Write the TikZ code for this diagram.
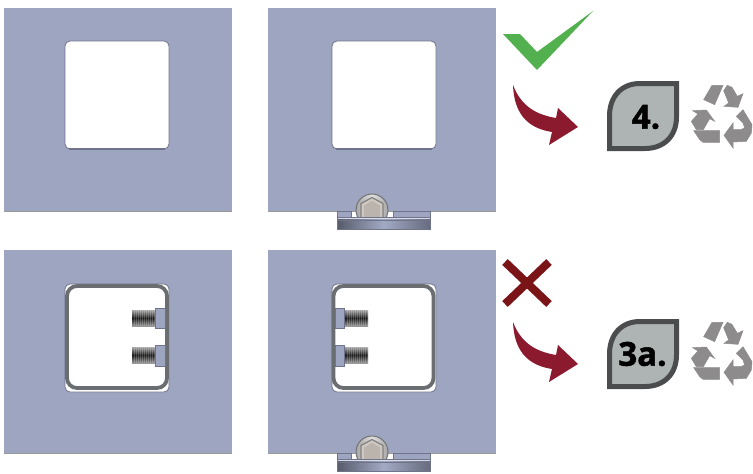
\documentclass[tikz,border=0pt]{standalone}
\usepackage{fontspec}
\setmainfont{Open Sans}
\newfontfamily\badgefont[BoldFeatures={FakeBold=1.6}]{Open Sans}
\usepackage{tikz}
\usetikzlibrary{calc}
\pgfdeclarelayer{edgelayer}
\pgfdeclarelayer{nodelayer}
\pgfsetlayers{edgelayer,main,nodelayer}
\definecolor{platecol}{HTML}{9DA5C1}
\definecolor{edgecol}{HTML}{70748A}
\definecolor{framecol}{HTML}{6B6E70}
\definecolor{recyclecol}{HTML}{8D8B8C}
\definecolor{okcol}{HTML}{52B04F}
\definecolor{badcol}{HTML}{7A1416}
\definecolor{arrowcol}{HTML}{8C1A2E}
\definecolor{leafcol}{HTML}{AEB3B3}
\definecolor{leafline}{HTML}{4A4C4E}
\definecolor{boltcol}{HTML}{CFC8C0}
\tikzstyle{plate}=[fill=platecol,draw=none]
\tikzstyle{window}=[fill=white,draw=edgecol,line width=0.8pt,rounded corners=5pt]
\tikzstyle{tube}=[draw=framecol,line width=3.8pt,rounded corners=10pt]
\tikzstyle{boltface}=[fill=platecol,draw=edgecol,line width=0.6pt]
\tikzstyle{leaf}=[fill=leafcol,draw=leafline,line width=5pt,line join=miter]
\tikzstyle{badgetext}=[inner sep=0pt,font=\badgefont\fontsize{33}{33}\selectfont\bfseries,text=black]
\tikzstyle{recycle}=[fill=recyclecol,draw=recyclecol,line width=0.5pt,x=0.3333pt,y=-0.3333pt]
\newcommand{\thread}[2]{% thread from x=#1, top y=#2, 23 long
	\shade [top color=gray!70,bottom color=gray!80,middle color=black!90] (#1,#2) rectangle ++(23,16);
	\foreach \i in {1,...,11} {
		\draw [white,opacity=0.2,line width=0.5pt] ($(#1,#2)+(2*\i,0)$) -- ++(0,16);
	}
}
\newcommand{\clamp}{% bolt and bracket under a plate
	\draw [boltface] (337,211) rectangle (351,218);
	\draw [boltface] (393,211) rectangle (430,218);
	\shade [left color=gray!70,right color=gray!70,middle color=gray!25,draw=black!55,line width=1pt] (372,210) circle (16);
	\draw [fill=boltcol,draw=black!50,line width=1.2pt] (372,197.5) -- (383,203.5) -- (383,218) -- (361,218) -- (361,203.5) -- cycle;
	\fill [boltcol!90!black] (372,201) -- (380,205.5) -- (380,218) -- (364,218) -- (364,205.5) -- cycle;
	\shade [left color=black!45!platecol,right color=black!35!platecol,middle color=platecol!95!white] (337,217) rectangle (430,229);
	\fill [white!60!platecol] (337,217.5) rectangle (430,219);
	\draw [edgecol,line width=0.6pt] (337,220.5) -- (430,220.5);
	\draw [edgecol,line width=0.5pt] (337,217) rectangle (430,229);
}
\newcommand{\recyclemark}{%
	\filldraw [recycle] (47,65) -- (72,22) -- (105,22) -- (80,80) -- cycle;
	\filldraw [recycle] (107,38) -- (118,22) -- (132,28) -- (148,55) -- (165,47) -- (150,88) -- (108,85) -- (122,75) -- cycle;
	\filldraw [recycle] (14,98) -- (55,96) -- (80,130) -- (65,122) -- (46,155) -- (25,155) -- (10,130) -- (30,108) -- cycle;
	\filldraw [recycle] (17,158) -- (95,158) -- (95,193) -- (45,193) -- (35,185) -- cycle;
	\filldraw [recycle] (145,115) -- (165,95) -- (192,140) -- (190,165) -- (175,190) -- (135,192) -- (135,210) -- (108,172) -- (135,135) -- (135,155) -- (158,155) -- (170,150) -- (165,135) -- cycle;
}
\newcommand{\leafbadge}{%
	\draw [style=leaf] (676.5,83.5) -- (640,83.5) .. controls (621,83.5) and (609.5,97) .. (609.5,116) -- (609.5,148.5) -- (645,148.5) .. controls (664,148.5) and (676.5,136) .. (676.5,117) -- cycle;
}
\newcommand{\redarrow}{%
	\fill [arrowcol] (513,85) .. controls (520,103) and (532,114) .. (556,118) -- (558,108) -- (578,127) -- (549,145) -- (552,132) .. controls (526,128) and (514,112) .. (513,85) -- cycle;
}
\begin{document}
\begin{tikzpicture}[x=1pt,y=-1pt]
	\useasboundingbox (0,0) rectangle (753,474);
	\begin{pgfonlayer}{edgelayer}
		% plates
		\fill [style=plate] (4,8) rectangle (232,211);
		\fill [style=plate] (268,8) rectangle (496,211);
		\fill [style=plate] (4,250) rectangle (232,453);
		\fill [style=plate] (268,250) rectangle (496,453);
		\draw [gray!80,line width=0.5pt] (4,211) -- (232,211);
		\draw [gray!80,line width=0.5pt] (268,211) -- (496,211);
		\draw [gray!80,line width=0.5pt] (4,453) -- (232,453);
		\draw [gray!80,line width=0.5pt] (268,453) -- (496,453);
		% windows
		\draw [style=window] (65,41) rectangle (169,149);
		\draw [style=window] (332,41) rectangle (436,149);
		\draw [style=window] (65,284) rectangle (169,392);
		\draw [style=window] (332,284) rectangle (436,392);
		\draw [edgecol,line width=1.2pt] (69,149) -- (165,149);
		\draw [edgecol,line width=1.2pt] (336,149) -- (432,149);
	\end{pgfonlayer}
	% frames and bolts
	\draw [style=tube] (67,286) rectangle (167,388);
	\draw [style=tube] (333.5,286) rectangle (433.5,388);
	\thread{132}{310}
	\thread{132}{347}
	\thread{345}{310}
	\thread{345}{347}
	\draw [style=boltface] (155,308) rectangle (165,328);
	\draw [style=boltface] (155,345) rectangle (165,366);
	\draw [style=boltface] (335,308) rectangle (344,328);
	\draw [style=boltface] (335,345) rectangle (344,366);
	\clamp
	\begin{scope}[yshift=-242pt]
		\clamp
	\end{scope}
	% marks
	\fill [okcol] (503,34) -- (520,34) -- (537,52) -- (593,11) -- (537,70) -- cycle;
	\draw [badcol,line width=8pt] (505,262) -- (549,304);
	\draw [badcol,line width=8pt] (549,262) -- (505,304);
	\redarrow
	\begin{scope}[yshift=-237pt]
		\redarrow
	\end{scope}
	\leafbadge
	\begin{scope}[yshift=-238pt]
		\leafbadge
	\end{scope}
	\begin{scope}[shift={(688,78)}]
		\recyclemark
	\end{scope}
	\begin{scope}[shift={(688,315)}]
		\recyclemark
	\end{scope}
	\begin{pgfonlayer}{nodelayer}
		\node [style=badgetext] (four) at (646,117) {4.};
		\node [style=badgetext] (threea) at (642.5,354) {3a.};
	\end{pgfonlayer}
\end{tikzpicture}
\end{document}
